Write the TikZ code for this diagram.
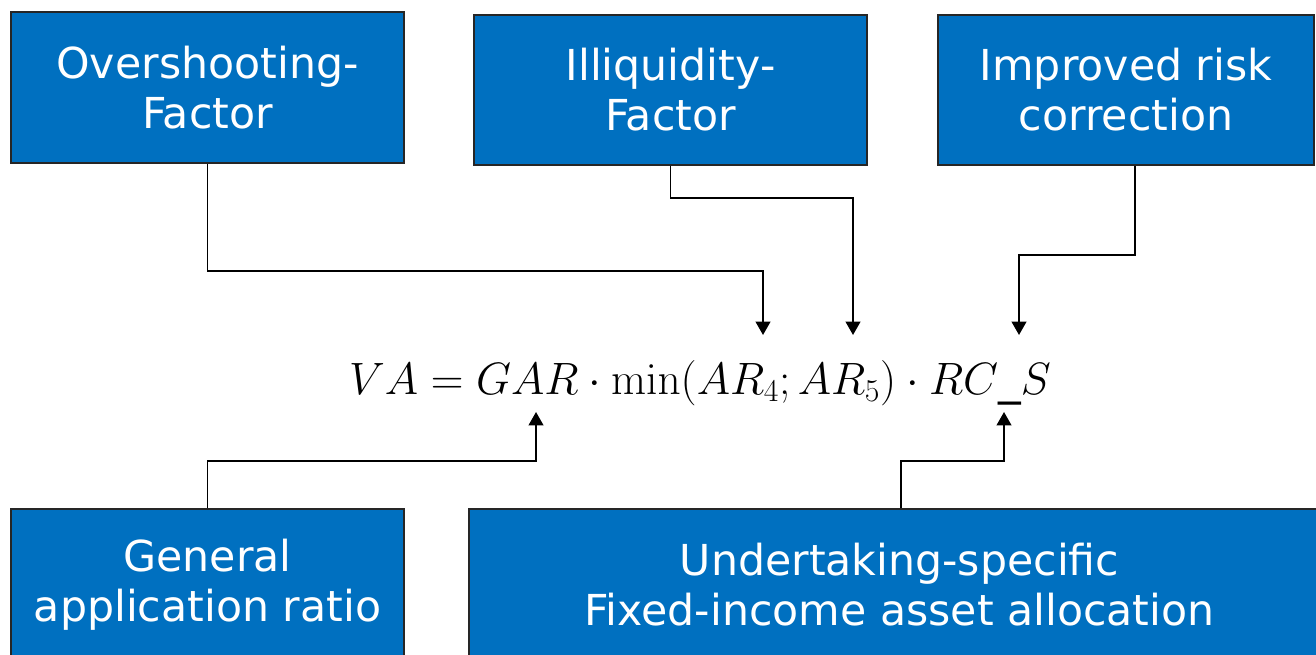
\RequirePackage{fix-cm}
\documentclass[tikz,border=0pt]{standalone}
\usepackage[no-math]{fontspec}
\setmainfont{DejaVu Sans}
\usetikzlibrary{arrows.meta}

\definecolor{boxblue}{RGB}{0,112,192}

\tikzset{
  factor/.style={draw=black!85, line width=0.9pt, fill=boxblue, text=white,
    align=center, inner sep=0pt, font=\fontsize{32}{37.5}\selectfont},
  link/.style={draw=black, line width=1.4pt},
  tip/.style={-{Triangle[length=10pt,width=11pt]}}
}

\begin{document}
\begin{tikzpicture}[x=0.75pt,y=-0.75pt]
	\useasboundingbox (0,0) rectangle (1316,655);
	\clip (0,0) rectangle (1316,655);

	% top row of factors
	\node[factor, minimum width=294.75pt, minimum height=113.25pt] (over) at (207.5,87.5) {Overshooting-\\Factor};
	\node[factor, minimum width=294.75pt, minimum height=112.5pt] (illiq) at (670.5,90) {Illiquidity-\\Factor};
	\node[factor, minimum width=282pt, minimum height=112.5pt] (riskcorr) at (1126,90) {Improved risk\\correction};

	% bottom row
	\node[factor, minimum width=294.75pt, minimum height=114pt] (gar) at (207.5,585) {General\\application ratio};
	\node[factor, minimum width=645.75pt, minimum height=114pt] (alloc) at (899.5,585) {Undertaking-specific\\Fixed-income asset allocation};

	% the formula
	\node[anchor=base, inner sep=0pt, font=\fontsize{34}{40}\selectfont] (va) at (700,395)
		{$VA = GAR\cdot\min(AR_4;AR_5)\cdot RC\_S$};

	% arrow ends and bends
	\coordinate (tipA) at (763,335);
	\coordinate (bendA) at (763,271);
	\coordinate (tipB) at (853,335);
	\coordinate (bendB) at (853,198);
	\coordinate (tipC) at (1019,335);
	\coordinate (bendC) at (1019,255);
	\coordinate (tipD) at (536,412);
	\coordinate (bendD) at (536,461);
	\coordinate (tipE) at (1004,412);
	\coordinate (bendE) at (1004,461);

	\draw[link,tip] (over.south) |- (bendA) -- (tipA);
	\draw[link,tip] (illiq.south) |- (bendB) -- (tipB);
	\draw[link,tip] ([xshift=6.75pt]riskcorr.south) |- (bendC) -- (tipC);
	\draw[link,tip] (gar.north) |- (bendD) -- (tipD);
	\draw[link,tip] ([xshift=1pt]alloc.north) |- (bendE) -- (tipE);
\end{tikzpicture}
\end{document}
